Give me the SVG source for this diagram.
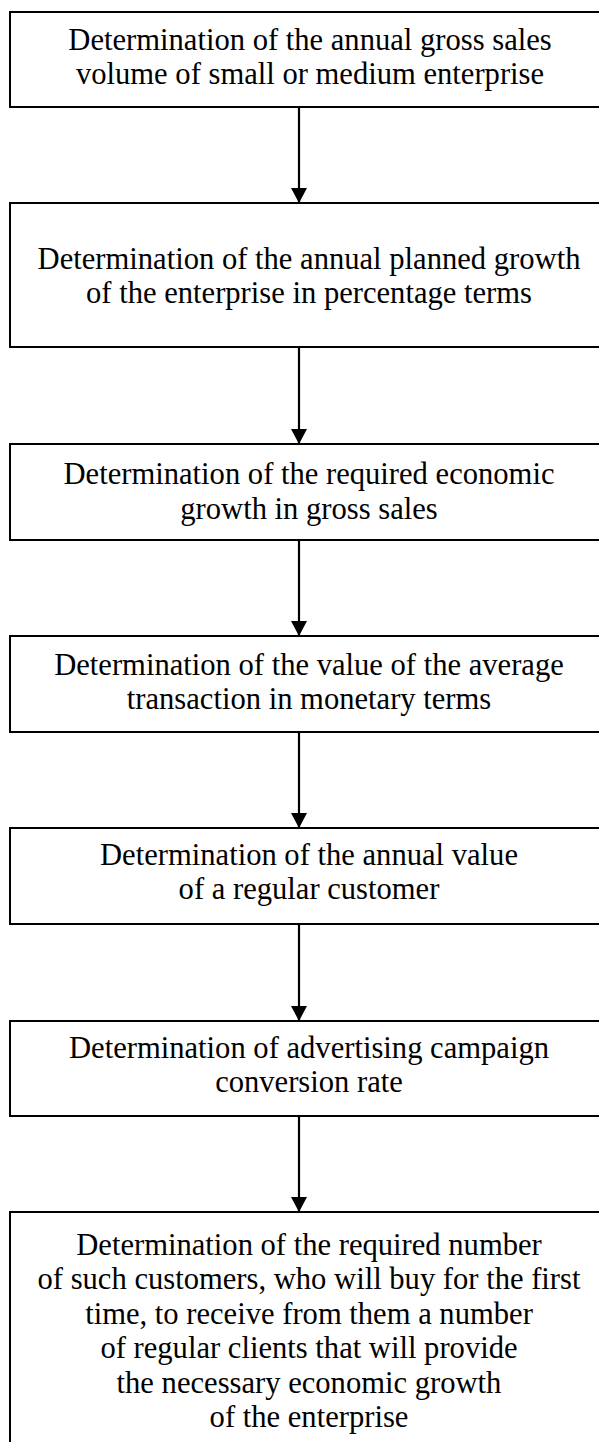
<svg xmlns="http://www.w3.org/2000/svg" width="599" height="1442" viewBox="0 0 599 1442">
<style>
.box{fill:#fff;stroke:#000;stroke-width:2}
.t{font-family:"Liberation Serif","Times New Roman",serif;font-size:30.6px;fill:#000;text-anchor:middle}
.c{stroke:#000;stroke-width:2.2;fill:none}
</style>
<defs>
<marker id="ah" markerUnits="userSpaceOnUse" markerWidth="16" markerHeight="16" refX="15" refY="8" orient="auto" viewBox="0 0 16 16">
<path d="M0,0 L15,8 L0,16 z" fill="#000"/>
</marker>
</defs>
<rect width="599" height="1442" fill="#fff"/>
<g id="connectors">
<line class="c" x1="299" y1="107" x2="299" y2="203" marker-end="url(#ah)"/>
<line class="c" x1="299" y1="347" x2="299" y2="444" marker-end="url(#ah)"/>
<line class="c" x1="299" y1="540" x2="299" y2="636" marker-end="url(#ah)"/>
<line class="c" x1="299" y1="732" x2="299" y2="828" marker-end="url(#ah)"/>
<line class="c" x1="299" y1="924" x2="299" y2="1021" marker-end="url(#ah)"/>
<line class="c" x1="299" y1="1116" x2="299" y2="1212" marker-end="url(#ah)"/>
</g>
<g id="n1">
<rect class="box" x="10" y="12" width="600" height="95"/>
<text class="t" x="310" y="50">Determination of the annual gross sales</text>
<text class="t" x="310" y="84">volume of small or medium enterprise</text>
</g>
<g id="n2">
<rect class="box" x="10" y="203" width="600" height="144"/>
<text class="t" x="309" y="269">Determination of the annual planned growth</text>
<text class="t" x="309" y="303">of the enterprise in percentage terms</text>
</g>
<g id="n3">
<rect class="box" x="10" y="444" width="600" height="96"/>
<text class="t" x="309" y="484">Determination of the required economic</text>
<text class="t" x="309" y="519">growth in gross sales</text>
</g>
<g id="n4">
<rect class="box" x="10" y="636" width="600" height="96"/>
<text class="t" x="309" y="675">Determination of the value of the average</text>
<text class="t" x="309" y="709">transaction in monetary terms</text>
</g>
<g id="n5">
<rect class="box" x="10" y="828" width="600" height="96"/>
<text class="t" x="309" y="865">Determination of the annual value</text>
<text class="t" x="309" y="899">of a regular customer</text>
</g>
<g id="n6">
<rect class="box" x="10" y="1021" width="600" height="95"/>
<text class="t" x="309" y="1058">Determination of advertising campaign</text>
<text class="t" x="309" y="1092">conversion rate</text>
</g>
<g id="n7">
<rect class="box" x="10" y="1212" width="600" height="260"/>
<text class="t" x="309" y="1255">Determination of the required number</text>
<text class="t" x="309" y="1289">of such customers, who will buy for the first</text>
<text class="t" x="309" y="1324">time, to receive from them a number</text>
<text class="t" x="309" y="1358">of regular clients that will provide</text>
<text class="t" x="309" y="1393">the necessary economic growth</text>
<text class="t" x="309" y="1427">of the enterprise</text>
</g>
</svg>
